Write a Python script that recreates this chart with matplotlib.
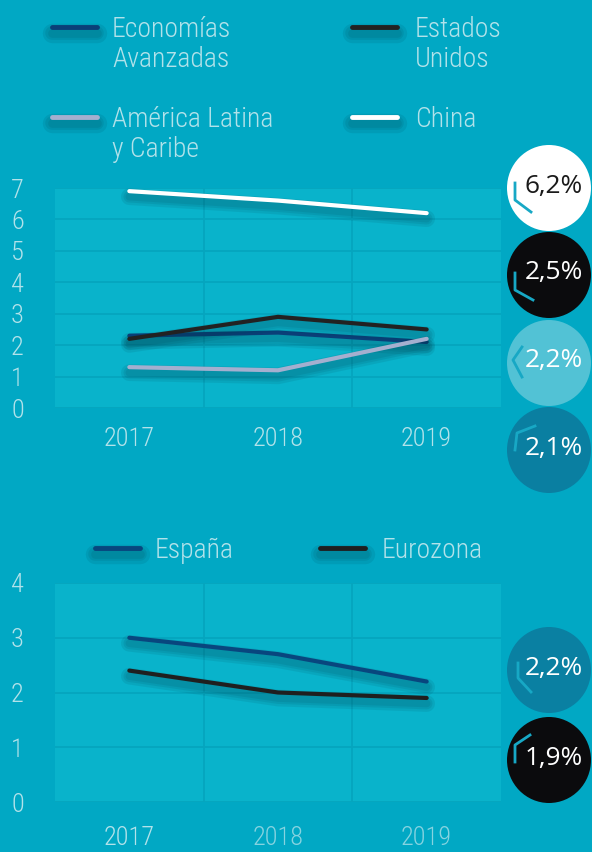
import os
import matplotlib
matplotlib.use('Agg')
import matplotlib.pyplot as plt
import matplotlib.patheffects as pe
from matplotlib.patches import Ellipse
from matplotlib import font_manager
from matplotlib.font_manager import FontProperties


def pick(patterns):
    files = [f.fname for f in font_manager.fontManager.ttflist]
    for pat in patterns:
        for fn in files:
            if pat.lower() in os.path.basename(fn).lower():
                return fn
    return None


# narrow light face for the labels if there is one
cond_file = pick(['OpenSansCondensed-Light', 'OpenSans-CondensedLight', 'OpenSans_Condensed-Light',
                  'NotoSans-CondensedLight', 'RobotoCondensed-Light', 'LiberationSansNarrow-Regular',
                  'NotoSans-ExtraCondensedLight'])
narrow = cond_file is not None
if not narrow:
    cond_file = pick(['Roboto-Light', 'Lato-Light', 'OpenSans-Light'])
bub_file = pick(['OpenSans-Regular', 'OpenSans-Light'])


def fp(size, fname):
    if fname:
        return FontProperties(fname=fname, size=size)
    return FontProperties(family='DejaVu Sans', size=size)


LBL = 19 if narrow else 16
LEG = 20 if narrow else 16

# data
years = ['2017', '2018', '2019']

top_labels = ['Economías\nAvanzadas', 'Estados\nUnidos', 'América Latina\ny Caribe', 'China']
ea = [2.3, 2.4, 2.1]
eeuu = [2.2, 2.9, 2.5]
alc = [1.3, 1.2, 2.2]
china = [6.9, 6.6, 6.2]
top_colors = ['#0a3f78', '#222222', '#a4afcf', '#ffffff']
top_bubble_colors = {'China': '#ffffff', 'Estados\nUnidos': '#0b0b0d',
                     'América Latina\ny Caribe': '#52c2d5', 'Economías\nAvanzadas': '#0a7fa1'}

bottom_labels = ['España', 'Eurozona']
espana = [3.0, 2.7, 2.2]
eurozona = [2.4, 2.0, 1.9]
bottom_colors = ['#08467e', '#1f1f1f']
bottom_bubble_colors = {'España': '#0a80a2', 'Eurozona': '#0b0b0d'}

BG = '#01a8c4'
PANEL = '#09b3cb'
GRID = '#05a5be'
TXT = '#b2e2ea'

W, H = 592, 852
fig = plt.figure(figsize=(W / 100, H / 100), dpi=100, facecolor=BG)


def shadow(lw):
    fx = [pe.SimpleLineShadow(offset=(0, -4), shadow_color='#003a48', alpha=0.10, linewidth=lw * k)
          for k in (4.0, 2.8, 1.8)]
    return fx + [pe.Normal()]


def make_axes(rect, series, colors, ymax, xpad):
    ax = fig.add_axes(rect)
    ax.set_facecolor(PANEL)
    for vals, c in zip(series, colors):
        ax.plot(range(len(years)), vals, color=c, lw=3, solid_capstyle='round',
                solid_joinstyle='round', path_effects=shadow(3), zorder=3)
    ax.set_xlim(-0.5, len(years) - 0.5)
    ax.set_ylim(0, ymax)
    ax.set_yticks(range(ymax + 1))
    ax.set_xticks(range(len(years)))
    ax.set_xticklabels(years)
    ax.set_xticks([i + 0.5 for i in range(len(years) - 1)], minor=True)
    ax.grid(axis='y', which='major', color=GRID, lw=1.3)
    ax.grid(axis='x', which='minor', color=GRID, lw=1.3)
    ax.grid(axis='x', which='major', visible=False)
    ax.tick_params(which='both', length=0)
    ax.tick_params(axis='y', pad=27, labelcolor=TXT)
    ax.tick_params(axis='x', pad=xpad, labelcolor=TXT)
    for lab in ax.get_xticklabels() + ax.get_yticklabels():
        lab.set_fontproperties(fp(LBL, cond_file))
    for lab in ax.get_yticklabels():
        lab.set_horizontalalignment('center')
        lab.set_verticalalignment('center_baseline')
    for s in ax.spines.values():
        s.set_visible(False)
    ax.set_axisbelow(True)
    return ax


top_series = [ea, eeuu, alc, china]
ax1 = make_axes([55 / W, 1 - 408 / H, 446 / W, 220 / H], top_series, top_colors, 7, 14)
ax2 = make_axes([55 / W, 1 - 802 / H, 446 / W, 219 / H], [espana, eurozona], bottom_colors, 4, 17)
ax2.get_xticklabels()[1].set_color('#86d3e0')
ax2.get_xticklabels()[2].set_color('#86d3e0')

# overlay in pixel coords for legends and bubbles
ov = fig.add_axes([0, 0, 1, 1], facecolor='none', zorder=5)
ov.set_xlim(0, W)
ov.set_ylim(H, 0)
ov.axis('off')


def legend(labels, colors, spots):
    for lab, c, (x, y, tx) in zip(labels, colors, spots):
        ov.plot([x, x + 45], [y, y], color=c, lw=3.5, solid_capstyle='round',
                path_effects=shadow(3.5))
        for k, part in enumerate(lab.split('\n')):
            ov.text(tx, y + 10 + 30 * k, part, color=TXT, fontproperties=fp(LEG, cond_file),
                    va='baseline', ha='left')


legend(top_labels, top_colors, [(52, 27, 112), (352, 27, 415), (52, 117, 112), (352, 117, 415)])
legend(bottom_labels, bottom_colors, [(95, 548, 155), (320, 548, 382)])

# chevron decorations inside each bubble (offsets from centre, px)
chevrons = [
    [(-34, -5), (-34, 12), (-18, 24)],
    [(-34, -2), (-34, 15), (-16, 25)],
    [(-27, -16), (-36, -3), (-27, 14)],
    [(-34, 0), (-32, -17), (-14, -24)],
    [(-31, -7), (-31, 8), (-18, 22)],
    [(-34, 2), (-34, -15), (-19, -25)],
]


def bubbles(labels, series, colors, centers, chevs):
    order = sorted(range(len(labels)), key=lambda i: -series[i][-1])
    for k, i in enumerate(order):
        cx, cy = centers[k]
        col = colors[labels[i]]
        ov.add_patch(Ellipse((cx, cy), 84, 86, facecolor=col, edgecolor='none'))
        xs = [cx + p[0] for p in chevs[k]]
        ys = [cy + p[1] for p in chevs[k]]
        ov.plot(xs, ys, color='#17a8c5', lw=2.0)
        tc = '#1a1a1a' if col == '#ffffff' else 'white'
        ov.text(cx + 5, cy - 2, f"{series[i][-1]:.1f}".replace('.', ',') + '%', color=tc,
                fontproperties=fp(19, bub_file), ha='center', va='center')


bubbles(top_labels, top_series, top_bubble_colors, [(549, 188), (549, 275), (549, 363), (549, 450)], chevrons[:4])
bubbles(bottom_labels, [espana, eurozona], bottom_bubble_colors, [(549, 670), (549, 760)], chevrons[4:])

fig.savefig('out.png', dpi=100, facecolor=BG)
